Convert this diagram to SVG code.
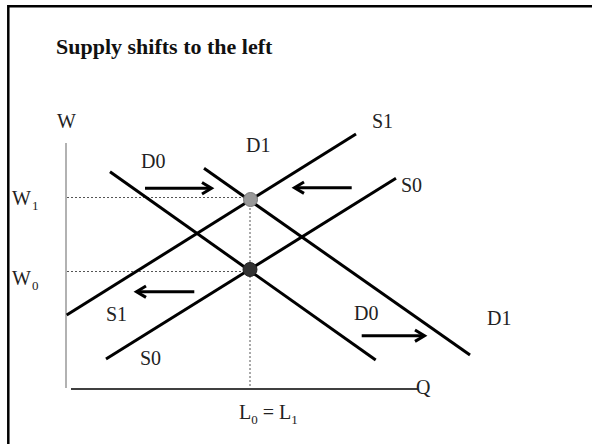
<svg xmlns="http://www.w3.org/2000/svg" width="592" height="444" viewBox="0 0 592 444">
<style>
text { font-family: "Liberation Serif", "Times New Roman", serif; font-size: 20px; fill: #222; }
.title { font-weight: bold; font-size: 22px; fill: #111; }
.sub { font-size: 13px; }
.curve { stroke: #000; stroke-width: 3; fill: none; }
.arrow { stroke: #000; stroke-width: 3; fill: none; }
.guide { stroke: #555; stroke-width: 1; stroke-dasharray: 2 2; fill: none; }
</style>
<rect x="0" y="0" width="592" height="444" fill="#fff"/>
<path d="M8.3,444 V6.2 H592" fill="none" stroke="#000" stroke-width="2.5"/>
<text class="title" x="56" y="54">Supply shifts to the left</text>

<g id="axes">
  <line x1="66" y1="143" x2="66" y2="388" stroke="#999" stroke-width="1.5"/>
  <line x1="71" y1="389" x2="418" y2="389" stroke="#000" stroke-width="1.5"/>
  <text x="57" y="128">W</text>
  <text x="416" y="394">Q</text>
  <text x="12" y="205">W<tspan class="sub" dx="1" dy="5">1</tspan></text>
  <text x="12" y="285">W<tspan class="sub" dx="1" dy="5">0</tspan></text>
  <text x="239" y="419">L<tspan class="sub" dy="5">0</tspan><tspan dy="-5"> = L</tspan><tspan class="sub" dy="5">1</tspan></text>
</g>

<g id="guides">
  <line class="guide" x1="67" y1="197.5" x2="250" y2="197.5"/>
  <line class="guide" x1="67" y1="271.5" x2="250" y2="271.5"/>
  <line class="guide" x1="250" y1="200" x2="250" y2="388"/>
</g>

<g id="connectors">
  <line id="D0" class="curve" x1="110" y1="171.7" x2="375.7" y2="360"/>
  <line id="D1" class="curve" x1="204" y1="168.3" x2="470" y2="355"/>
  <line id="S1" class="curve" x1="66.7" y1="315" x2="356" y2="134"/>
  <line id="S0" class="curve" x1="106" y1="359" x2="396" y2="178.3"/>
  <g id="arrows">
    <line class="arrow" x1="145" y1="188.3" x2="211" y2="188.3"/>
    <polyline class="arrow" points="202,182.5 211.5,188.3 202,194"/>
    <line class="arrow" x1="351.7" y1="187.7" x2="295" y2="187.7"/>
    <polyline class="arrow" points="304,182 294.5,187.7 304,193.4"/>
    <line class="arrow" x1="194.3" y1="291.7" x2="137" y2="291.7"/>
    <polyline class="arrow" points="146,286 136.5,291.7 146,297.4"/>
    <line class="arrow" x1="361.7" y1="335.7" x2="424" y2="335.7"/>
    <polyline class="arrow" points="415,330 424.5,335.7 415,341.4"/>
  </g>
</g>

<g id="eq1"><circle cx="250.5" cy="199.5" r="7" fill="#999" stroke="#777" stroke-width="1"/></g>
<g id="eq0"><circle cx="250" cy="269.5" r="7" fill="#333" stroke="#222" stroke-width="1"/></g>

<g id="labels">
  <text x="141" y="168">D0</text>
  <text x="246" y="152">D1</text>
  <text x="372" y="128">S1</text>
  <text x="401" y="192">S0</text>
  <text x="106" y="321">S1</text>
  <text x="140" y="365">S0</text>
  <text x="354" y="320">D0</text>
  <text x="487" y="325">D1</text>
</g>
</svg>
